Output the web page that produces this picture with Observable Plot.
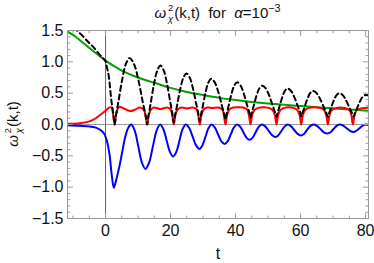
<!DOCTYPE html>
<html>
<head>
<meta charset="utf-8">
<script src="https://cdn.jsdelivr.net/npm/d3@7"></script>
<script src="https://cdn.jsdelivr.net/npm/@observablehq/plot@0.6"></script>
<style>
  html, body { margin: 0; padding: 0; background: white; }
  #wrap { position: relative; width: 374px; height: 263px; font-family: "Liberation Sans", Arial, sans-serif; color: #111; }
  #title { position: absolute; left: 217.5px; top: 3px; transform: translateX(-50%); font-size: 15px; white-space: nowrap; line-height: 16px; }
  #ylab { position: absolute; left: 14px; top: 124px; transform: translate(-50%, -50%) rotate(-90deg); font-size: 15px; white-space: nowrap; line-height: 16px; }
  .ss { display: inline-block; vertical-align: -0.42em; font-size: 0.62em; margin-left: 2px; margin-right: 1px; text-align: left; }
  .ss span { display: block; height: 1.15em; line-height: 1.15em; }
  .sup { font-size: 0.72em; vertical-align: 0.5em; line-height: 0; }
  i { font-style: italic; }
</style>
</head>
<body>
<div id="wrap">
  <div id="chart"></div>
  <div id="title"><i>ω</i><span class="ss"><span>2</span><span><i>χ</i></span></span>(k,t)&nbsp;&nbsp;for&nbsp;&nbsp;<i>α</i>=10<span class="sup">−3</span></div>
  <div id="ylab"><i>ω</i><span class="ss"><span>2</span><span><i>χ</i></span></span>(k,t)</div>
</div>
<script>
// ---- data ----
const xTicks = [0, 20, 40, 60, 80];
const xTickLabels = ["0", "20", "40", "60", "80"];
const xMinor = [-10, -5, 5, 10, 15, 25, 30, 35, 45, 50, 55, 65, 70, 75];
const yTicks = [-1.5, -1, -0.5, 0, 0.5, 1, 1.5];
const yTickLabels = ["−1.5", "−1.0", "−0.5", "0.0", "0.5", "1.0", "1.5"];
const yMinor = [-1.4, -1.3, -1.2, -1.1, -0.9, -0.8, -0.7, -0.6, -0.4, -0.3, -0.2, -0.1,
                0.1, 0.2, 0.3, 0.4, 0.6, 0.7, 0.8, 0.9, 1.1, 1.2, 1.3, 1.4];

const green = [[-11.7,1.48],[-10,1.43],[-7.5,1.33],[-5,1.22],[-2.5,1.12],[0,1.02],[2.5,0.935],[5,0.86],
  [7.5,0.80],[10,0.75],[12.5,0.705],[15,0.665],[20,0.585],[25,0.52],[30,0.47],[35,0.425],[40,0.39],
  [45,0.36],[50,0.335],[55,0.315],[60,0.295],[65,0.275],[70,0.258],[75,0.24],[81,0.22]];

const red = [[-11.7,0.01],[-8,0.02],[-5,0.05],[-3,0.10],[-1.5,0.16],[0,0.22],[1,0.265],[1.8,0.275],[2.3,0.17],[2.8,0],
  [3.3,0.17],[4.2,0.28],[5.5,0.26],[7.5,0.215],[9,0.235],[10.6,0.27],[11.8,0.23],[12.3,0.15],[12.8,0],
  [13.3,0.15],[14,0.24],[15,0.27],[16.9,0.245],[19,0.27],[20,0.24],[20.5,0.15],[21,0],
  [21.5,0.15],[22.2,0.24],[23.5,0.27],[25,0.255],[26.8,0.27],[28,0.24],[28.5,0.15],[29,0],
  [29.5,0.15],[30.2,0.24],[31.3,0.27],[32.9,0.265],[34.6,0.27],[35.9,0.24],[36.4,0.15],[36.9,0],
  [37.4,0.15],[38.1,0.24],[39.3,0.27],[40.8,0.275],[42.3,0.27],[43.5,0.24],[44.1,0.15],[44.6,0],
  [45.1,0.15],[45.8,0.23],[47,0.265],[48.6,0.275],[50.2,0.265],[51.4,0.23],[52.1,0.15],[52.6,0],
  [53.1,0.15],[53.8,0.23],[55,0.265],[56.4,0.275],[57.8,0.265],[59,0.23],[59.7,0.15],[60.2,0],
  [60.7,0.15],[61.4,0.23],[62.6,0.265],[64.3,0.275],[66,0.265],[67.2,0.23],[67.9,0.15],[68.4,0],
  [68.9,0.15],[69.6,0.23],[70.8,0.26],[72.3,0.27],[73.8,0.26],[75,0.23],[75.6,0.15],[76.1,0],
  [76.6,0.15],[77.3,0.23],[78.5,0.255],[80,0.265],[81,0.265]];

const blue = [[-11.7,-0.012],[-8,-0.02],[-5,-0.03],[-3,-0.05],[-1.5,-0.09],[-0.5,-0.14],[0.3,-0.24],[1.2,-0.47],
  [1.9,-0.8],[2.55,-1.01],[3.3,-0.88],[4.3,-0.66],[5.2,-0.42],[6.0,-0.21],[7.0,-0.05],[7.9,0],
  [9.0,-0.10],[10.1,-0.355],[11.2,-0.61],[12.3,-0.71],[13.4,-0.61],[14.55,-0.355],[15.7,-0.10],[16.8,0],
  [17.8,-0.075],[18.8,-0.255],[19.8,-0.435],[20.8,-0.51],[21.8,-0.435],[22.75,-0.255],[23.7,-0.075],[24.7,0],
  [25.75,-0.057],[26.8,-0.195],[27.85,-0.333],[28.9,-0.39],[29.8,-0.333],[30.75,-0.195],[31.7,-0.057],[32.6,0],
  [33.6,-0.045],[34.6,-0.155],[35.6,-0.265],[36.6,-0.31],[37.6,-0.265],[38.55,-0.155],[39.5,-0.045],[40.5,0],
  [41.45,-0.036],[42.4,-0.1225],[43.35,-0.21],[44.3,-0.245],[45.25,-0.21],[46.2,-0.1225],[47.15,-0.036],[48.1,0],
  [49.15,-0.03],[50.2,-0.10],[51.25,-0.17],[52.3,-0.20],[53.2,-0.17],[54.15,-0.10],[55.1,-0.03],[56,0],
  [57,-0.026],[58.05,-0.0875],[59.1,-0.15],[60.1,-0.175],[61.05,-0.15],[62,-0.0875],[62.95,-0.026],[63.9,0],
  [65,-0.021],[66.1,-0.072],[67.2,-0.124],[68.3,-0.145],[69.2,-0.124],[70.15,-0.072],[71.1,-0.021],[72,0],
  [73.1,-0.018],[74.15,-0.06],[75.2,-0.10],[76.3,-0.12],[77.2,-0.10],[78.15,-0.06],[79.1,-0.018],[80,0],[81,-0.01]];

const black = [[-11.7,1.64],[-10,1.56],[-9,1.51],[-7,1.41],[-5.4,1.32],[-4,1.25],[-2.4,1.15],[-1,1.07],[0,1.01],
  [0.4,0.92],[1.0,0.77],[1.8,0.38],[2.4,0.17],[2.8,0],
  [3.26,0.16],[3.95,0.36],[5.1,0.71],[6.25,0.965],[7.4,1.06],[8.75,0.965],[10.1,0.71],[11.45,0.36],[12.26,0.16],[12.8,0],
  [13.21,0.14],[13.83,0.32],[14.85,0.63],[15.88,0.855],[16.9,0.94],[17.92,0.858],[18.95,0.64],[19.97,0.34],[20.59,0.167],[21,0.03],
  [21.39,0.148],[21.98,0.297],[22.95,0.556],[23.93,0.744],[24.9,0.815],[25.92,0.746],[26.95,0.563],[27.97,0.31],[28.59,0.165],[29,0.05],
  [29.35,0.152],[29.88,0.281],[30.75,0.506],[31.63,0.669],[32.5,0.73],[33.6,0.672],[34.7,0.516],[35.8,0.301],[36.46,0.178],[36.9,0.08],
  [37.26,0.169],[37.8,0.282],[38.7,0.479],[39.6,0.621],[40.5,0.675],[41.53,0.624],[42.55,0.489],[43.58,0.302],[44.19,0.195],[44.6,0.11],
  [44.96,0.187],[45.5,0.283],[46.4,0.452],[47.3,0.574],[48.2,0.62],[49.3,0.575],[50.4,0.455],[51.5,0.29],[52.16,0.195],[52.6,0.12],
  [52.94,0.188],[53.45,0.275],[54.3,0.425],[55.15,0.534],[56,0.575],[57.08,0.535],[58.15,0.428],[59.23,0.281],[59.87,0.197],[60.3,0.13],
  [60.65,0.191],[61.18,0.268],[62.05,0.401],[62.93,0.499],[63.8,0.535],[64.95,0.498],[66.1,0.398],[67.25,0.261],[67.94,0.182],[68.4,0.12],
  [68.75,0.177],[69.28,0.249],[70.15,0.375],[71.03,0.466],[71.9,0.5],[73.0,0.466],[74.1,0.375],[75.2,0.249],[75.86,0.177],[76.3,0.12],
  [76.67,0.173],[77.23,0.239],[78.15,0.355],[79.08,0.439],[80,0.47],[81,0.46]];

// ---- chart ----
const tickShape = { draw(ctx, l) { ctx.moveTo(0, 0); ctx.lineTo(0, -l); } };
function frameTicks(side, values, len) {
  const rot = { left: 90, right: -90, bottom: 0, top: 180 }[side];
  const ch = (side === "left" || side === "right") ? { y: d => d } : { x: d => d };
  return Plot.vector(values, { ...ch, frameAnchor: side, length: len, rotate: rot, anchor: "start",
    shape: tickShape, stroke: "#9a9a9a", strokeWidth: 1 });
}
const lineOpts = (c, extra = {}) => ({ x: d => d[0], y: d => d[1], stroke: c, strokeWidth: 2,
  curve: "catmull-rom", clip: true, ...extra });

const chart = Plot.plot({
  width: 374, height: 263,
  marginLeft: 67, marginRight: 6, marginTop: 30, marginBottom: 45,
  style: { fontFamily: "'Liberation Sans', Arial, sans-serif", fontSize: "16px", color: "#111", background: "white" },
  x: { domain: [-11.7, 80.9] },
  y: { domain: [-1.5, 1.5] },
  marks: [
    Plot.ruleY([0], { stroke: "#9a9a9a", strokeWidth: 1.2 }),
    Plot.ruleX([0], { stroke: "#666", strokeWidth: 1 }),
    Plot.line(green, lineOpts("#00a000")),
    Plot.line(red, lineOpts("#ff0000")),
    Plot.line(blue, lineOpts("#0000ff")),
    Plot.line(black, lineOpts("#000000", { strokeDasharray: "5,3.5" })),
    Plot.frame({ stroke: "#9a9a9a", strokeWidth: 1 }),
    frameTicks("left", yTicks, 5), frameTicks("left", yMinor, 2.5),
    frameTicks("right", yTicks, 5), frameTicks("right", yMinor, 2.5),
    frameTicks("bottom", xTicks, 5), frameTicks("bottom", xMinor, 2.5),
    frameTicks("top", xTicks, 5), frameTicks("top", xMinor, 2.5),
    Plot.axisY({ ticks: yTicks, tickSize: 0, tickPadding: 4, label: null,
      tickFormat: d => yTickLabels[yTicks.indexOf(d)] }),
    Plot.axisX({ ticks: xTicks, tickSize: 0, tickPadding: 6, label: null,
      tickFormat: d => xTickLabels[xTicks.indexOf(d)] }),
    Plot.text(["t"], { frameAnchor: "bottom", dy: 35, text: d => d, fontSize: 16, lineAnchor: "middle" })
  ]
});
document.getElementById("chart").appendChild(chart);
</script>
</body>
</html>
